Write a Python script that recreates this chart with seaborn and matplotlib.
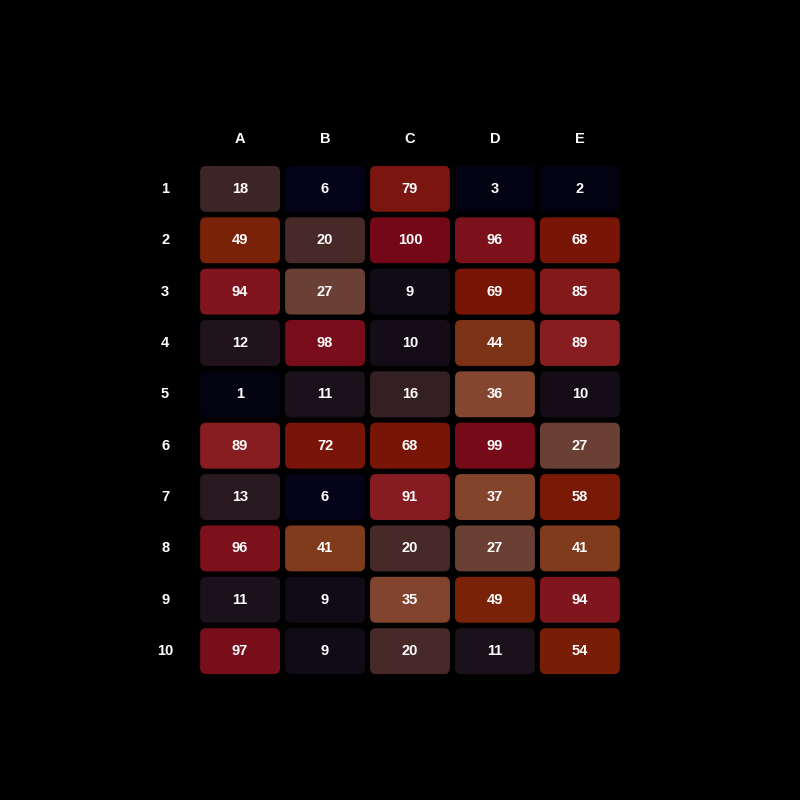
import numpy as np
import pandas as pd
import seaborn as sns
import matplotlib
matplotlib.use("Agg")
import matplotlib.pyplot as plt
from matplotlib.colors import LinearSegmentedColormap
from matplotlib.patches import FancyBboxPatch

columns = ["A", "B", "C", "D", "E"]
rows = ["1", "2", "3", "4", "5", "6", "7", "8", "9", "10"]
col_A = [18, 49, 94, 12, 1, 89, 13, 96, 11, 97]
col_B = [6, 20, 27, 98, 11, 72, 6, 41, 9, 9]
col_C = [79, 100, 9, 10, 16, 68, 91, 20, 35, 20]
col_D = [3, 96, 69, 44, 36, 99, 37, 27, 49, 11]
col_E = [2, 68, 85, 89, 10, 27, 58, 41, 94, 54]

df = pd.DataFrame({"A": col_A, "B": col_B, "C": col_C, "D": col_D, "E": col_E}, index=rows)

cmap = LinearSegmentedColormap.from_list("custom", [
    (0.00, "#02020f"),
    (0.06, "#050318"),
    (0.10, "#150d18"),
    (0.13, "#28181f"),
    (0.20, "#472a28"),
    (0.27, "#6a4035"),
    (0.36, "#85452e"),
    (0.42, "#7d3818"),
    (0.49, "#7a2208"),
    (0.60, "#781805"),
    (0.72, "#781408"),
    (0.80, "#7a1510"),
    (0.90, "#881e22"),
    (1.00, "#740818"),
])

plt.rcParams["font.family"] = ["Liberation Sans", "DejaVu Sans"]
fig = plt.figure(figsize=(8, 8), dpi=100, facecolor="black")
ax = fig.add_axes([0.247, 0.154, 0.531, 0.642])
ax.set_facecolor("black")

sns.heatmap(df, ax=ax, cmap=cmap, vmin=0, vmax=100, cbar=False,
            annot=False, linewidths=0)
mesh = ax.collections[0]
colors = mesh.get_facecolors()
mesh.set_visible(False)

padx, pady = 0.03, 0.053
r = 0.07
k = 0
for i in range(len(rows)):
    for j in range(len(columns)):
        c = colors[k]
        k += 1
        box = FancyBboxPatch((j + padx + r, i + pady + r * 1.65),
                             1 - 2 * padx - 2 * r, 1 - 2 * pady - 2 * r * 1.65,
                             boxstyle=f"round,pad={r},rounding_size={r}",
                             mutation_aspect=1.65,
                             facecolor=c, edgecolor="none")
        ax.add_patch(box)
        ax.text(j + 0.5, i + 0.5, str(df.iloc[i, j]), ha="center", va="center",
                color="white", fontsize=10.5, fontweight="bold")

ax.xaxis.tick_top()
ax.tick_params(axis="x", length=0, colors="white", pad=12.5)
ax.tick_params(axis="y", length=0, colors="white", pad=23.4)
ax.set_xticklabels(columns, color="white", fontweight="bold", fontsize=10.5)
ax.set_yticklabels(rows, color="white", fontweight="bold", fontsize=10.5,
                   rotation=0, ha="center")
ax.set_xlabel("")
ax.set_ylabel("")
for s in ax.spines.values():
    s.set_visible(False)

fig.savefig("out.png", dpi=100, facecolor="black")
